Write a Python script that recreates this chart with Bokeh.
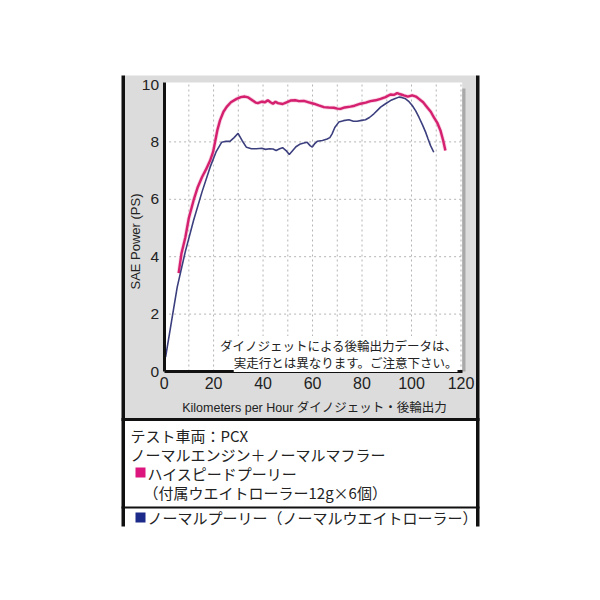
from bokeh.plotting import figure
from bokeh.models import BoxAnnotation, Label, FixedTicker, Range1d, LinearAxis
from bokeh.embed import file_html
from bokeh.resources import INLINE
import math

# ---------------- data ----------------
pink_kmh = [5.9, 7.0, 8.6, 10.0, 11.9, 13.5, 15.3, 17.0, 18.6, 19.8, 20.6, 21.5, 22.6, 24.0,
            25.3, 27.0, 29.3, 31.0, 32.6, 34.0, 35.5, 37.0, 37.9, 39.5, 40.8, 41.9, 43.0,
            44.0, 45.0, 46.0, 47.9, 49.5, 51.1, 53.0, 54.5, 56.5, 58.5, 60.5, 62.5, 64.6,
            66.5, 68.6, 70.0, 71.3, 73.0, 75.3, 77.0, 79.4, 81.5, 83.4, 85.5, 87.5, 89.5,
            91.5, 93.0, 94.2, 95.5, 96.9, 98.5, 100.3, 101.8, 103.0, 104.7, 106.3, 107.8,
            109.0, 110.5, 111.7, 112.8, 113.7]
pink_ps = [3.43, 4.10, 4.68, 5.35, 5.96, 6.40, 6.77, 7.05, 7.35, 7.65, 8.00, 8.40, 8.75, 9.05,
           9.22, 9.38, 9.50, 9.56, 9.58, 9.55, 9.46, 9.37, 9.35, 9.40, 9.38, 9.45, 9.38,
           9.33, 9.40, 9.35, 9.32, 9.38, 9.44, 9.45, 9.42, 9.43, 9.38, 9.33, 9.27, 9.21,
           9.20, 9.19, 9.16, 9.15, 9.20, 9.23, 9.26, 9.33, 9.37, 9.42, 9.45, 9.50, 9.56,
           9.65, 9.64, 9.70, 9.66, 9.62, 9.58, 9.62, 9.58, 9.50, 9.38, 9.21, 9.05,
           8.86, 8.65, 8.40, 8.05, 7.70]

navy_kmh = [0.6, 3.0, 5.3, 8.5, 11.9, 15.3, 18.6, 21.0, 23.3, 25.0, 26.6, 28.3, 29.9, 31.5,
            33.3, 35.3, 37.3, 39.5, 41.0, 42.6, 44.0, 45.3, 46.7, 47.9, 49.3, 50.6, 52.0,
            53.3, 55.1, 56.5, 57.8, 59.0, 59.9, 61.0, 61.9, 64.0, 65.9, 67.0, 67.9, 69.0,
            70.6, 72.5, 74.7, 76.5, 78.0, 79.8, 81.4, 83.0, 84.8, 86.2, 87.5, 89.5, 91.5,
            93.2, 94.9, 96.0, 97.6, 99.0, 100.3, 101.7, 103.0, 104.4, 105.7, 106.7, 107.7,
            109.0]
navy_ps = [0.50, 1.75, 2.94, 4.15, 5.26, 6.25, 7.12, 7.65, 7.99, 8.02, 8.02, 8.15, 8.30, 8.05,
           7.81, 7.76, 7.76, 7.78, 7.74, 7.76, 7.75, 7.70, 7.76, 7.80, 7.70, 7.56, 7.70,
           7.83, 7.93, 7.96, 7.99, 7.87, 7.82, 7.95, 8.02, 8.05, 8.10, 8.15, 8.28, 8.50,
           8.69, 8.74, 8.77, 8.72, 8.72, 8.75, 8.77, 8.85, 8.98, 9.10, 9.21, 9.33, 9.44,
           9.50, 9.56, 9.55, 9.50, 9.40, 9.27, 9.08, 8.86, 8.60, 8.34, 8.10, 7.87,
           7.64]

x_ticks = [0, 20, 40, 60, 80, 100, 120]
y_ticks = [0, 2, 4, 6, 8, 10]
x_grid = [10, 20, 30, 40, 50, 60, 70, 80, 90, 100, 110, 120]
y_grid = [2, 4, 6, 8]

x_label = "Kilometers per Hour ダイノジェット・後輪出力"
y_label = "SAE Power (PS)"
note_lines = ["ダイノジェットによる後輪出力データは、", "実走行とは異なります。ご注意下さい。"]
info_lines = ["テスト車両：PCX", "ノーマルエンジン＋ノーマルマフラー"]
pink_name = ["ハイスピードプーリー", "（付属ウエイトローラー12g×6個）"]
navy_name = "ノーマルプーリー（ノーマルウエイトローラー）"

# ---------------- geometry (page pixels) ----------------
W, H = 584, 584
OFF = 0            # page offset of the canvas
PX0, SX = 163.6, 2.474   # page x of 0 km/h, px per km/h
PY0, SY = 371.0, 28.7    # page y of 0 PS, px per PS
XMAX, YMAX = 120.5, 10.07


def dx(px):
    return (px - PX0) / SX


def dy(py):
    return (PY0 - py) / SY


JP = "Noto Sans CJK JP"
LAT = "Liberation Sans"
MIX = "Liberation Sans, Noto Sans CJK JP"

p = figure(width=W, height=H, output_backend="svg", toolbar_location=None,
           x_range=Range1d(dx(OFF), dx(OFF + W)), y_range=Range1d(dy(OFF + H), dy(OFF)),
           x_axis_type=None, y_axis_type=None,
           min_border=0, min_border_left=0, min_border_right=0,
           min_border_top=0, min_border_bottom=0,
           background_fill_color="white", border_fill_color="white",
           outline_line_color=None)


def box(l, r, t, b, color, level="image"):
    p.add_layout(BoxAnnotation(left=dx(l), right=dx(r), top=dy(t), bottom=dy(b),
                               fill_color=color, fill_alpha=1.0, line_color=None,
                               level=level))


# gray panel, white plot area, shadow
box(123, 477, 75, 418.5, "#dcdcdc")
p.add_layout(BoxAnnotation(left=0, right=XMAX, top=YMAX, bottom=0, fill_color="white",
                           fill_alpha=1.0, line_color=None, level="image"))
p.add_layout(BoxAnnotation(left=XMAX, right=dx(465), top=dy(88), bottom=0,
                           fill_color="#a9a9a9", fill_alpha=1.0, line_color=None,
                           level="image"))

# grid (dotted)
p.segment(x0=x_grid, y0=[0] * len(x_grid), x1=x_grid, y1=[YMAX] * len(x_grid),
          line_color="#b4b4b4", line_width=1, line_dash="2 3", level="underlay")
p.segment(x0=[0] * len(y_grid), y0=y_grid, x1=[XMAX] * len(y_grid), y1=y_grid,
          line_color="#b4b4b4", line_width=1, line_dash="2 3", level="underlay")

# axes at fixed location
xaxis = LinearAxis(fixed_location=0, bounds=(0, XMAX), ticker=FixedTicker(ticks=x_ticks))
yaxis = LinearAxis(fixed_location=0, bounds=(0, YMAX), ticker=FixedTicker(ticks=y_ticks))
for ax in (xaxis, yaxis):
    ax.axis_line_color = "#111111"
    ax.axis_line_width = 3
    ax.major_tick_line_color = None
    ax.minor_tick_line_color = None
    ax.major_tick_in = 0
    ax.major_tick_out = 0
    ax.major_label_text_font = LAT
    ax.major_label_text_color = "#222222"
    ax.major_label_standoff = 5
xaxis.major_label_text_font_size = "16px"
yaxis.major_label_text_font_size = "15.5px"
p.add_layout(xaxis, "below")
p.add_layout(yaxis, "left")

# curves
p.line(pink_kmh, pink_ps, line_color="#ef9cc2", line_width=4, line_alpha=0.45)
p.line(pink_kmh, pink_ps, line_color="#d4206f", line_width=2.4)
p.line(navy_kmh, navy_ps, line_color="#3c3f7e", line_width=1.6)

# axis titles
p.add_layout(Label(x=dx(314), y=dy(407), text=x_label, text_align="center",
                   text_baseline="middle", text_font=MIX, text_font_size="12.5px",
                   text_color="#222222"))
p.add_layout(Label(x=dx(134.5), y=dy(241), text=y_label, angle=math.pi / 2,
                   text_align="center", text_baseline="middle", text_font=LAT,
                   text_font_size="13px", text_color="#222222"))

# note
for txt, py in zip(note_lines, [345, 362]):
    p.add_layout(Label(x=dx(457), y=dy(py), text=txt, text_align="right",
                       text_baseline="middle", text_font=JP, text_font_size="12.5px",
                       text_color="#222222", background_fill_color="white"))

# info box
for txt, py in zip(info_lines, [435, 454]):
    p.add_layout(Label(x=dx(130), y=dy(py), text=txt, text_align="left",
                       text_baseline="middle", text_font=JP, text_font_size="15px",
                       text_color="#222222"))
box(135, 145, 467, 477, "#dc167c", level="overlay")
p.add_layout(Label(x=dx(147), y=dy(473), text=pink_name[0], text_align="left",
                   text_baseline="middle", text_font=JP, text_font_size="15px",
                   text_color="#222222"))
p.add_layout(Label(x=dx(143), y=dy(492), text=pink_name[1], text_align="left",
                   text_baseline="middle", text_font=JP, text_font_size="15px",
                   text_color="#222222"))
box(135, 145, 512, 522, "#1c2a8a", level="overlay")
p.add_layout(Label(x=dx(147), y=dy(517), text=navy_name, text_align="left",
                   text_baseline="middle", text_font=JP, text_font_size="15px",
                   text_color="#222222"))

# card frame lines
box(121, 124.5, 75, 526, "#111111", level="overlay")
box(475.5, 479, 75, 526, "#111111", level="overlay")
box(121, 479, 417.5, 420.5, "#111111", level="overlay")
box(121, 479, 506, 508, "#111111", level="overlay")

open("out.html", "w").write(file_html(p, INLINE))
